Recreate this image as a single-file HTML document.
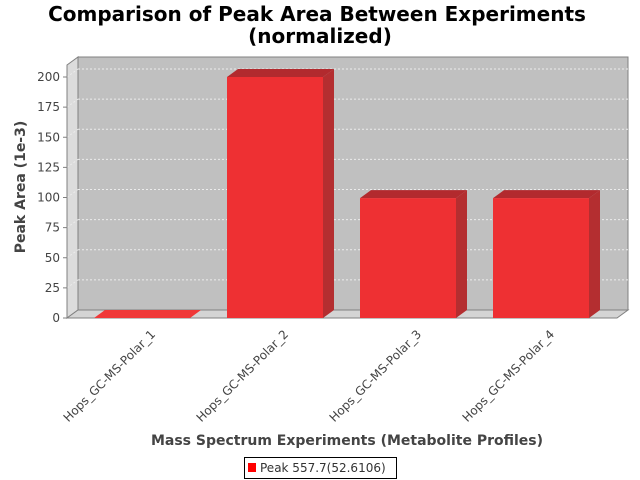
<!DOCTYPE html>
<html><head><meta charset="utf-8"><style>
body{margin:0;background:#fff}
svg{display:block;font-family:"DejaVu Sans","Liberation Sans",sans-serif}
</style></head><body>
<svg id="chart" width="640" height="480" viewBox="0 0 640 480">
<text x="317" y="21" font-size="20" font-weight="bold" text-anchor="middle" fill="#000">Comparison of Peak Area Between Experiments</text>
<text x="320" y="43" font-size="20" font-weight="bold" text-anchor="middle" fill="#000">(normalized)</text>
<g id="plot"></g>
<text transform="translate(25,187) rotate(-90)" font-size="14" font-weight="bold" fill="#444" text-anchor="middle">Peak Area (1e-3)</text>
<text x="347" y="445" font-size="14" font-weight="bold" fill="#444" text-anchor="middle">Mass Spectrum Experiments (Metabolite Profiles)</text>
<g>
<rect x="244.5" y="457.5" width="152" height="21" fill="#fff" stroke="#000"/>
<rect x="248" y="463" width="8" height="9" fill="#ff0000"/>
<text x="260" y="472" font-size="12" fill="#333">Peak 557.7(52.6106)</text>
</g>
</svg>
<script>
const categories=["Hops_GC-MS-Polar_1","Hops_GC-MS-Polar_2","Hops_GC-MS-Polar_3","Hops_GC-MS-Polar_4"];
const values=[0,200,99.5,99.5];
const ticks=[0,25,50,75,100,125,150,175,200];
const NS="http://www.w3.org/2000/svg";
const g=document.getElementById('plot');
const L=67,R=617,B=318,DX=11,DY=8;
function y(v){return B-v*1.205;}
function xc(i){return 94+i*133;}
const BW=96;
function mk(t,a){const e=document.createElementNS(NS,t);for(const k in a)e.setAttribute(k,a[k]);g.appendChild(e);return e;}
const topY=B-DY-ticks[ticks.length-1]*1.205-12;
let e=mk('rect',{x:L+DX,y:topY,width:R-L,height:B-DY-topY,fill:'#c0c0c0',stroke:'#808080'});


e=mk('polygon',{points:`${L},${topY+DY} ${L+DX},${topY} ${L+DX},${B-DY} ${L},${B}`,fill:'#dcdcdc',stroke:'#808080'});


e=mk('polygon',{points:`${L},${B} ${L+DX},${B-DY} ${R+DX},${B-DY} ${R},${B}`,fill:'#d4d4d4',stroke:'#808080'});


ticks.forEach(t=>{
  if(t>0){const l=mk('line',{x1:L+DX,x2:R+DX,y1:y(t)-DY,y2:y(t)-DY,stroke:'#ececec','stroke-dasharray':'2,2','stroke-width':1});
  
  
  const d=mk('line',{x1:L,x2:L+DX,y1:y(t),y2:y(t)-DY,stroke:'#ececec','stroke-dasharray':'2,2'});
  
  }
  const tk=mk('line',{x1:L-4,x2:L,y1:y(t),y2:y(t),stroke:'#808080'});
  
  
  const tx=mk('text',{x:L-7,y:y(t)+4,'font-size':12,fill:'#444','text-anchor':'end'});
  tx.textContent=t;
  
  
});
mk('line',{x1:L,x2:L,y1:topY+DY,y2:B,stroke:'#808080'});
values.forEach((v,i)=>{
  const x0=xc(i),x1=x0+BW,yt=y(v);
  const top=mk('polygon',{points:`${x0},${yt} ${x0+DX},${yt-DY} ${x1+DX},${yt-DY} ${x1},${yt}`,fill:v<1?'#f03838':'#b22a2e'});
  
  
  const side=mk('polygon',{points:`${x1},${yt} ${x1+DX},${yt-DY} ${x1+DX},${B-DY} ${x1},${B}`,fill:'#b42e30'});
  
  
  const f=mk('rect',{x:x0,y:yt,width:BW,height:B-yt,fill:'#ee3033'});
  
  
  const lb=mk('text',{transform:`translate(${x0+BW/2+14},${B+17}) rotate(-45)`,'font-size':12,fill:'#444','text-anchor':'end'});
  lb.textContent=categories[i];
  
  
});
</script>
</body></html>
